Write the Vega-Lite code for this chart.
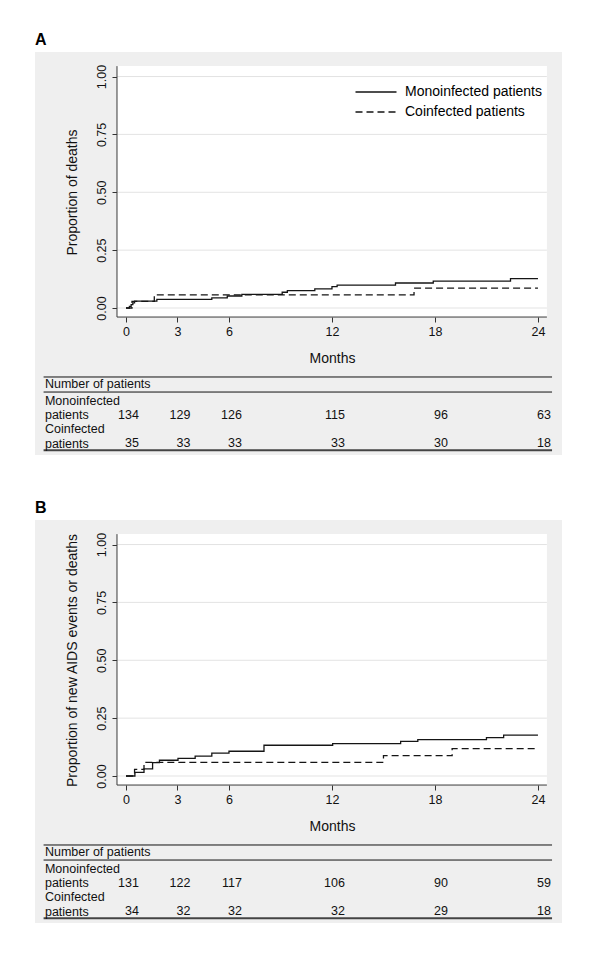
{
  "$schema": "https://vega.github.io/schema/vega-lite/v6.json",
  "background": "white",
  "padding": {"left": 35, "top": 32, "right": 0, "bottom": 0},
  "autosize": {"type": "pad"},
  "spacing": 45,
  "config": {
    "font": "Liberation Sans",
    "view": {"stroke": null, "fill": "#efefef"},
    "title": {"anchor": "start", "fontSize": 16, "fontWeight": "bold", "offset": 4, "color": "#000", "font": "Liberation Sans"},
    "text": {"font": "Liberation Sans", "fontSize": 12.5, "color": "#111"},
    "axis": {"zindex": 1, "domain": false, "grid": false, "tickSize": 5, "tickColor": "#333", "labelFontSize": 12.5, "labelColor": "#111", "titleFontSize": 14, "titleFontWeight": "normal", "titleColor": "#111", "labelFlush": false}
  },
  "datasets": {
    "kmA": [
      {"group": "Monoinfected patients", "t": 0, "p": 0},
      {"group": "Monoinfected patients", "t": 0.2, "p": 0.0075},
      {"group": "Monoinfected patients", "t": 0.3, "p": 0.015},
      {"group": "Monoinfected patients", "t": 0.4, "p": 0.022},
      {"group": "Monoinfected patients", "t": 0.5, "p": 0.03},
      {"group": "Monoinfected patients", "t": 1.8, "p": 0.037},
      {"group": "Monoinfected patients", "t": 5.0, "p": 0.044},
      {"group": "Monoinfected patients", "t": 5.9, "p": 0.052},
      {"group": "Monoinfected patients", "t": 6.75, "p": 0.059},
      {"group": "Monoinfected patients", "t": 9.1, "p": 0.068},
      {"group": "Monoinfected patients", "t": 9.4, "p": 0.075},
      {"group": "Monoinfected patients", "t": 11.0, "p": 0.083},
      {"group": "Monoinfected patients", "t": 12.0, "p": 0.092},
      {"group": "Monoinfected patients", "t": 12.3, "p": 0.099},
      {"group": "Monoinfected patients", "t": 15.7, "p": 0.108},
      {"group": "Monoinfected patients", "t": 17.9, "p": 0.116},
      {"group": "Monoinfected patients", "t": 22.4, "p": 0.127},
      {"group": "Monoinfected patients", "t": 24, "p": 0.127},
      {"group": "Coinfected patients", "t": 0, "p": 0},
      {"group": "Coinfected patients", "t": 0.35, "p": 0.029},
      {"group": "Coinfected patients", "t": 1.65, "p": 0.057},
      {"group": "Coinfected patients", "t": 16.78, "p": 0.086},
      {"group": "Coinfected patients", "t": 24, "p": 0.086}
    ],
    "kmB": [
      {"group": "Monoinfected patients", "t": 0, "p": 0},
      {"group": "Monoinfected patients", "t": 0.52, "p": 0.016},
      {"group": "Monoinfected patients", "t": 1.05, "p": 0.031},
      {"group": "Monoinfected patients", "t": 1.55, "p": 0.058},
      {"group": "Monoinfected patients", "t": 1.95, "p": 0.068},
      {"group": "Monoinfected patients", "t": 3.03, "p": 0.076},
      {"group": "Monoinfected patients", "t": 4.03, "p": 0.086},
      {"group": "Monoinfected patients", "t": 5.0, "p": 0.099},
      {"group": "Monoinfected patients", "t": 6.0, "p": 0.107},
      {"group": "Monoinfected patients", "t": 8.04, "p": 0.133},
      {"group": "Monoinfected patients", "t": 12.04, "p": 0.14},
      {"group": "Monoinfected patients", "t": 16.0, "p": 0.15},
      {"group": "Monoinfected patients", "t": 17.0, "p": 0.157},
      {"group": "Monoinfected patients", "t": 21.0, "p": 0.166},
      {"group": "Monoinfected patients", "t": 22.0, "p": 0.177},
      {"group": "Monoinfected patients", "t": 24, "p": 0.177},
      {"group": "Coinfected patients", "t": 0, "p": 0},
      {"group": "Coinfected patients", "t": 0.5, "p": 0.029},
      {"group": "Coinfected patients", "t": 1.05, "p": 0.059},
      {"group": "Coinfected patients", "t": 15.0, "p": 0.088},
      {"group": "Coinfected patients", "t": 19.0, "p": 0.118},
      {"group": "Coinfected patients", "t": 24, "p": 0.118}
    ],
    "riskA": [
      {"group": "Monoinfected patients", "t": 0, "n": 134},
      {"group": "Monoinfected patients", "t": 3, "n": 129},
      {"group": "Monoinfected patients", "t": 6, "n": 126},
      {"group": "Monoinfected patients", "t": 12, "n": 115},
      {"group": "Monoinfected patients", "t": 18, "n": 96},
      {"group": "Monoinfected patients", "t": 24, "n": 63},
      {"group": "Coinfected patients", "t": 0, "n": 35},
      {"group": "Coinfected patients", "t": 3, "n": 33},
      {"group": "Coinfected patients", "t": 6, "n": 33},
      {"group": "Coinfected patients", "t": 12, "n": 33},
      {"group": "Coinfected patients", "t": 18, "n": 30},
      {"group": "Coinfected patients", "t": 24, "n": 18}
    ],
    "riskB": [
      {"group": "Monoinfected patients", "t": 0, "n": 131},
      {"group": "Monoinfected patients", "t": 3, "n": 122},
      {"group": "Monoinfected patients", "t": 6, "n": 117},
      {"group": "Monoinfected patients", "t": 12, "n": 106},
      {"group": "Monoinfected patients", "t": 18, "n": 90},
      {"group": "Monoinfected patients", "t": 24, "n": 59},
      {"group": "Coinfected patients", "t": 0, "n": 34},
      {"group": "Coinfected patients", "t": 3, "n": 32},
      {"group": "Coinfected patients", "t": 6, "n": 32},
      {"group": "Coinfected patients", "t": 12, "n": 32},
      {"group": "Coinfected patients", "t": 18, "n": 29},
      {"group": "Coinfected patients", "t": 24, "n": 18}
    ],
    "ticks": [{"tick": 0}, {"tick": 0.25}, {"tick": 0.5}, {"tick": 0.75}, {"tick": 1}],
    "one": [{}]
  },
  "vconcat": [
    {
      "title": "A",
      "width": 527,
      "height": 403,
      "layer": [
        {"data": {"name": "one"}, "mark": {"type": "rect", "fill": "white"},
         "encoding": {"x": {"datum": -0.524, "type": "quantitative", "scale": {"domain": [-5.3, 25.4], "nice": false, "zero": false}}, "x2": {"datum": 24.52},
                      "y": {"datum": -0.039, "type": "quantitative", "scale": {"domain": [-0.635, 1.106], "nice": false, "zero": false}}, "y2": {"datum": 1.045}}},
        {"data": {"name": "ticks"}, "mark": {"type": "rule", "color": "#e3e3e3", "strokeWidth": 1},
         "encoding": {"x": {"datum": -0.524, "type": "quantitative"}, "x2": {"datum": 24.52}, "y": {"field": "tick", "type": "quantitative"}}},
        {"data": {"name": "one"}, "mark": {"type": "rule", "color": "#3a3a3a", "strokeWidth": 1},
         "encoding": {"x": {"datum": -0.524, "type": "quantitative"}, "y": {"datum": -0.039, "type": "quantitative"}, "y2": {"datum": 1.045}}},
        {"data": {"name": "one"}, "mark": {"type": "rule", "color": "#3a3a3a", "strokeWidth": 1},
         "encoding": {"x": {"datum": -0.524, "type": "quantitative"}, "x2": {"datum": 24.52}, "y": {"datum": -0.039, "type": "quantitative"}}},
        {"data": {"name": "one"}, "mark": {"type": "rule", "color": "#111", "strokeWidth": 1},
         "encoding": {"x": {"datum": -4.8, "type": "quantitative"}, "x2": {"datum": 24.82}, "y": {"datum": -0.298, "type": "quantitative"}}},
        {"data": {"name": "one"}, "mark": {"type": "rule", "color": "#111", "strokeWidth": 1},
         "encoding": {"x": {"datum": -4.8, "type": "quantitative"}, "x2": {"datum": 24.82}, "y": {"datum": -0.363, "type": "quantitative"}}},
        {"data": {"name": "one"}, "mark": {"type": "rule", "color": "#444", "strokeWidth": 2},
         "encoding": {"x": {"datum": -4.8, "type": "quantitative"}, "x2": {"datum": 24.82}, "y": {"datum": -0.614, "type": "quantitative"}}},
        {"data": {"name": "kmA"}, "mark": {"type": "line", "interpolate": "step-after", "color": "#151515", "strokeWidth": 1.3},
         "encoding": {
           "x": {"field": "t", "type": "quantitative", "scale": {"domain": [-5.3, 25.4], "nice": false, "zero": false},
                 "axis": {"values": [0, 3, 6, 12, 18, 24], "offset": -138, "labelPadding": 3, "title": "Months", "titlePadding": 14, "titleX": 297}},
           "y": {"field": "p", "type": "quantitative", "scale": {"domain": [-0.635, 1.106], "nice": false, "zero": false},
                 "axis": {"values": [0, 0.25, 0.5, 0.75, 1], "format": ".2f", "offset": -82, "labelAngle": -90, "labelPadding": 4, "title": "Proportion of deaths", "titlePadding": 16, "titleY": 140}},
           "strokeDash": {"field": "group", "type": "nominal", "scale": {"domain": ["Monoinfected patients", "Coinfected patients"], "range": [[1, 0], [7, 4]]},
                          "legend": {"orient": "none", "legendX": 334, "legendY": 33, "title": null, "symbolType": "M-4.1,0H4.1", "symbolSize": 100, "symbolStrokeWidth": 1.3, "symbolStrokeColor": "#151515", "labelFontSize": 14, "labelColor": "#000", "labelOffset": 22, "rowPadding": 6, "padding": 0}},
           "detail": {"field": "group"}
         }},
        {"data": {"name": "one"}, "mark": {"type": "text", "align": "left", "baseline": "alphabetic"},
         "encoding": {"x": {"datum": -4.72, "type": "quantitative"}, "y": {"datum": -0.346, "type": "quantitative"}, "text": {"value": "Number of patients"}}},
        {"data": {"name": "riskA"}, "transform": [{"filter": "datum.t == 0 && datum.group == 'Monoinfected patients'"}],
         "mark": {"type": "text", "align": "left", "baseline": "alphabetic", "lineBreak": " ", "lineHeight": 14.3},
         "encoding": {"x": {"datum": -4.72, "type": "quantitative"}, "y": {"datum": -0.417, "type": "quantitative"}, "text": {"field": "group"}}},
        {"data": {"name": "riskA"}, "transform": [{"filter": "datum.t == 0 && datum.group == 'Coinfected patients'"}],
         "mark": {"type": "text", "align": "left", "baseline": "alphabetic", "lineBreak": " ", "lineHeight": 14.3},
         "encoding": {"x": {"datum": -4.72, "type": "quantitative"}, "y": {"datum": -0.542, "type": "quantitative"}, "text": {"field": "group"}}},
        {"data": {"name": "riskA"}, "transform": [{"filter": "datum.group == 'Monoinfected patients'"}],
         "mark": {"type": "text", "align": "right", "baseline": "alphabetic", "dx": 13},
         "encoding": {"x": {"field": "t", "type": "quantitative"}, "y": {"datum": -0.4786, "type": "quantitative"}, "text": {"field": "n"}}},
        {"data": {"name": "riskA"}, "transform": [{"filter": "datum.group == 'Coinfected patients'"}],
         "mark": {"type": "text", "align": "right", "baseline": "alphabetic", "dx": 13},
         "encoding": {"x": {"field": "t", "type": "quantitative"}, "y": {"datum": -0.601, "type": "quantitative"}, "text": {"field": "n"}}}
      ]
    },
    {
      "title": "B",
      "width": 527,
      "height": 403,
      "layer": [
        {"data": {"name": "one"}, "mark": {"type": "rect", "fill": "white"},
         "encoding": {"x": {"datum": -0.524, "type": "quantitative", "scale": {"domain": [-5.3, 25.4], "nice": false, "zero": false}}, "x2": {"datum": 24.52},
                      "y": {"datum": -0.039, "type": "quantitative", "scale": {"domain": [-0.635, 1.106], "nice": false, "zero": false}}, "y2": {"datum": 1.045}}},
        {"data": {"name": "ticks"}, "mark": {"type": "rule", "color": "#e3e3e3", "strokeWidth": 1},
         "encoding": {"x": {"datum": -0.524, "type": "quantitative"}, "x2": {"datum": 24.52}, "y": {"field": "tick", "type": "quantitative"}}},
        {"data": {"name": "one"}, "mark": {"type": "rule", "color": "#3a3a3a", "strokeWidth": 1},
         "encoding": {"x": {"datum": -0.524, "type": "quantitative"}, "y": {"datum": -0.039, "type": "quantitative"}, "y2": {"datum": 1.045}}},
        {"data": {"name": "one"}, "mark": {"type": "rule", "color": "#3a3a3a", "strokeWidth": 1},
         "encoding": {"x": {"datum": -0.524, "type": "quantitative"}, "x2": {"datum": 24.52}, "y": {"datum": -0.039, "type": "quantitative"}}},
        {"data": {"name": "one"}, "mark": {"type": "rule", "color": "#111", "strokeWidth": 1},
         "encoding": {"x": {"datum": -4.8, "type": "quantitative"}, "x2": {"datum": 24.82}, "y": {"datum": -0.298, "type": "quantitative"}}},
        {"data": {"name": "one"}, "mark": {"type": "rule", "color": "#111", "strokeWidth": 1},
         "encoding": {"x": {"datum": -4.8, "type": "quantitative"}, "x2": {"datum": 24.82}, "y": {"datum": -0.363, "type": "quantitative"}}},
        {"data": {"name": "one"}, "mark": {"type": "rule", "color": "#444", "strokeWidth": 2},
         "encoding": {"x": {"datum": -4.8, "type": "quantitative"}, "x2": {"datum": 24.82}, "y": {"datum": -0.614, "type": "quantitative"}}},
        {"data": {"name": "kmB"}, "mark": {"type": "line", "interpolate": "step-after", "color": "#151515", "strokeWidth": 1.3},
         "encoding": {
           "x": {"field": "t", "type": "quantitative", "scale": {"domain": [-5.3, 25.4], "nice": false, "zero": false},
                 "axis": {"values": [0, 3, 6, 12, 18, 24], "offset": -138, "labelPadding": 3, "title": "Months", "titlePadding": 14, "titleX": 297}},
           "y": {"field": "p", "type": "quantitative", "scale": {"domain": [-0.635, 1.106], "nice": false, "zero": false},
                 "axis": {"values": [0, 0.25, 0.5, 0.75, 1], "format": ".2f", "offset": -82, "labelAngle": -90, "labelPadding": 4, "title": "Proportion of new AIDS events or deaths", "titlePadding": 16, "titleY": 140}},
           "strokeDash": {"field": "group", "type": "nominal", "scale": {"domain": ["Monoinfected patients", "Coinfected patients"], "range": [[1, 0], [7, 4]]},
                          "legend": {"orient": "none", "legendX": 334, "legendY": 30, "title": null, "symbolType": "M-4.1,0H4.1", "symbolSize": 100, "symbolStrokeWidth": 1.3, "symbolStrokeColor": "#151515", "labelFontSize": 14, "labelColor": "#000", "labelOffset": 22, "rowPadding": 6, "padding": 0}},
           "detail": {"field": "group"}
         }},
        {"data": {"name": "one"}, "mark": {"type": "text", "align": "left", "baseline": "alphabetic"},
         "encoding": {"x": {"datum": -4.72, "type": "quantitative"}, "y": {"datum": -0.346, "type": "quantitative"}, "text": {"value": "Number of patients"}}},
        {"data": {"name": "riskB"}, "transform": [{"filter": "datum.t == 0 && datum.group == 'Monoinfected patients'"}],
         "mark": {"type": "text", "align": "left", "baseline": "alphabetic", "lineBreak": " ", "lineHeight": 14.3},
         "encoding": {"x": {"datum": -4.72, "type": "quantitative"}, "y": {"datum": -0.417, "type": "quantitative"}, "text": {"field": "group"}}},
        {"data": {"name": "riskB"}, "transform": [{"filter": "datum.t == 0 && datum.group == 'Coinfected patients'"}],
         "mark": {"type": "text", "align": "left", "baseline": "alphabetic", "lineBreak": " ", "lineHeight": 14.3},
         "encoding": {"x": {"datum": -4.72, "type": "quantitative"}, "y": {"datum": -0.542, "type": "quantitative"}, "text": {"field": "group"}}},
        {"data": {"name": "riskB"}, "transform": [{"filter": "datum.group == 'Monoinfected patients'"}],
         "mark": {"type": "text", "align": "right", "baseline": "alphabetic", "dx": 13},
         "encoding": {"x": {"field": "t", "type": "quantitative"}, "y": {"datum": -0.4786, "type": "quantitative"}, "text": {"field": "n"}}},
        {"data": {"name": "riskB"}, "transform": [{"filter": "datum.group == 'Coinfected patients'"}],
         "mark": {"type": "text", "align": "right", "baseline": "alphabetic", "dx": 13},
         "encoding": {"x": {"field": "t", "type": "quantitative"}, "y": {"datum": -0.601, "type": "quantitative"}, "text": {"field": "n"}}}
      ]
    }
  ]
}
